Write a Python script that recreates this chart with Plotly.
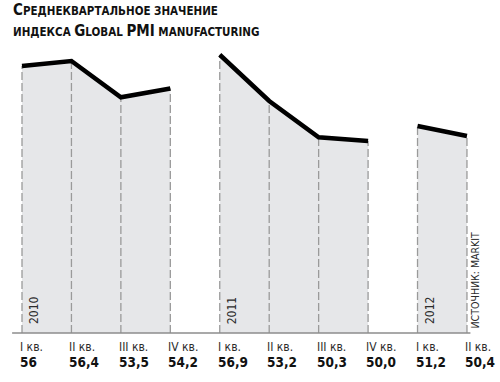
import plotly.graph_objects as go

# ---- data ----
years = ["2010", "2011", "2012"]
quarters_2010 = ["I кв.", "II кв.", "III кв.", "IV кв."]
quarters_2011 = ["I кв.", "II кв.", "III кв.", "IV кв."]
quarters_2012 = ["I кв.", "II кв."]
values_2010 = [56.0, 56.4, 53.5, 54.2]
values_2011 = [56.9, 53.2, 50.3, 50.0]
values_2012 = [51.2, 50.4]
value_labels = ["56", "56,4", "53,5", "54,2", "56,9", "53,2", "50,3", "50,0", "51,2", "50,4"]
source = "ИСТОЧНИК: MARKIT"

BASE = 34.64  # baseline value of the area
W, H = 500, 382
PX_PER_UNIT = 12.5
Y_MAX = 56 + 66 / PX_PER_UNIT
Y_MIN = Y_MAX - H / PX_PER_UNIT
STEP = 49.44
X_MIN = -22 / STEP
X_MAX = X_MIN + W / STEP

FILL = "#e6e7e9"
DASH = "#9a9a9a"
TXT = "#2b2b2b"
FONT = "Liberation Sans Narrow, DejaVu Sans Condensed, Arial Narrow, sans-serif"

groups = [(years[0], quarters_2010, values_2010),
          (years[1], quarters_2011, values_2011),
          (years[2], quarters_2012, values_2012)]

fig = go.Figure()
annotations = []
idx = 0
all_q = []
for year, qs, vals in groups:
    xs = list(range(idx, idx + len(vals)))
    # shaded area
    fig.add_trace(go.Scatter(
        x=xs + [xs[-1], xs[0]], y=vals + [BASE, BASE],
        fill="toself", fillcolor=FILL, mode="lines", line=dict(width=0),
        hoverinfo="skip", showlegend=False))
    # dashed verticals
    dx, dy = [], []
    for x, v in zip(xs, vals):
        dx += [x, x, None]
        dy += [BASE, v, None]
    fig.add_trace(go.Scatter(x=dx, y=dy, mode="lines",
                             line=dict(color=DASH, width=1.3, dash="8px,3px"),
                             hoverinfo="skip", showlegend=False))
    # main line
    fig.add_trace(go.Scatter(x=xs, y=vals, mode="lines",
                             line=dict(color="#000000", width=4.5),
                             hoverinfo="skip", showlegend=False))
    # year label
    annotations.append(dict(x=xs[0], y=BASE, xref="x", yref="y", text=year,
                            textangle=-90, showarrow=False, xanchor="left",
                            yanchor="bottom", xshift=3, yshift=7,
                            font=dict(family=FONT, size=12, color=TXT)))
    all_q += qs
    idx += len(vals)

# baseline
fig.add_trace(go.Scatter(x=[-0.2, 9.07], y=[BASE, BASE], mode="lines",
                         line=dict(color="#8c8c8c", width=1.5),
                         hoverinfo="skip", showlegend=False))

for i, (q, lab) in enumerate(zip(all_q, value_labels)):
    annotations.append(dict(x=i, y=BASE, xref="x", yref="y", text=q,
                            showarrow=False, xanchor="left", yanchor="middle",
                            xshift=-4, yshift=-14,
                            font=dict(family=FONT, size=12, color=TXT)))
    annotations.append(dict(x=i, y=BASE, xref="x", yref="y", text="<b>" + lab + "</b>",
                            showarrow=False, xanchor="left", yanchor="middle",
                            xshift=-4, yshift=-29,
                            font=dict(family=FONT, size=13.5, color="#111111")))

annotations.append(dict(x=9, y=BASE, xref="x", yref="y", text=source,
                        textangle=-90, showarrow=False, xanchor="left",
                        yanchor="bottom", xshift=0, yshift=3,
                        font=dict(family=FONT, size=10.5, color=TXT)))

TF = "DejaVu Sans Condensed, Liberation Sans Narrow, sans-serif"
big, small = 15, 11.5
def sc(s):
    return f'<span style="font-size:{small}px">{s}</span>'
line1 = "<b>С" + sc("РЕДНЕКВАРТАЛЬНОЕ ЗНАЧЕНИЕ") + "</b>"
line2 = "<b>" + sc("ИНДЕКСА ") + "G" + sc("LOBAL ") + "PMI" + sc(" MANUFACTURING") + "</b>"
annotations.append(dict(x=11 / W, y=1 - 10 / H, xref="paper", yref="paper", text=line1,
                        showarrow=False, xanchor="left", yanchor="middle",
                        font=dict(family=TF, size=big, color="#111111")))
annotations.append(dict(x=11 / W, y=1 - 31 / H, xref="paper", yref="paper", text=line2,
                        showarrow=False, xanchor="left", yanchor="middle",
                        font=dict(family=TF, size=big, color="#111111")))

fig.update_layout(
    width=W, height=H, margin=dict(l=0, r=0, t=0, b=0),
    paper_bgcolor="white", plot_bgcolor="white",
    xaxis=dict(range=[X_MIN, X_MAX], visible=False, fixedrange=True),
    yaxis=dict(range=[Y_MIN, Y_MAX], visible=False, fixedrange=True),
    annotations=annotations, showlegend=False,
)
fig.write_html("out.html", config={"displayModeBar": False},
               post_script="document.body.style.margin='0';document.body.style.overflow='hidden';")
